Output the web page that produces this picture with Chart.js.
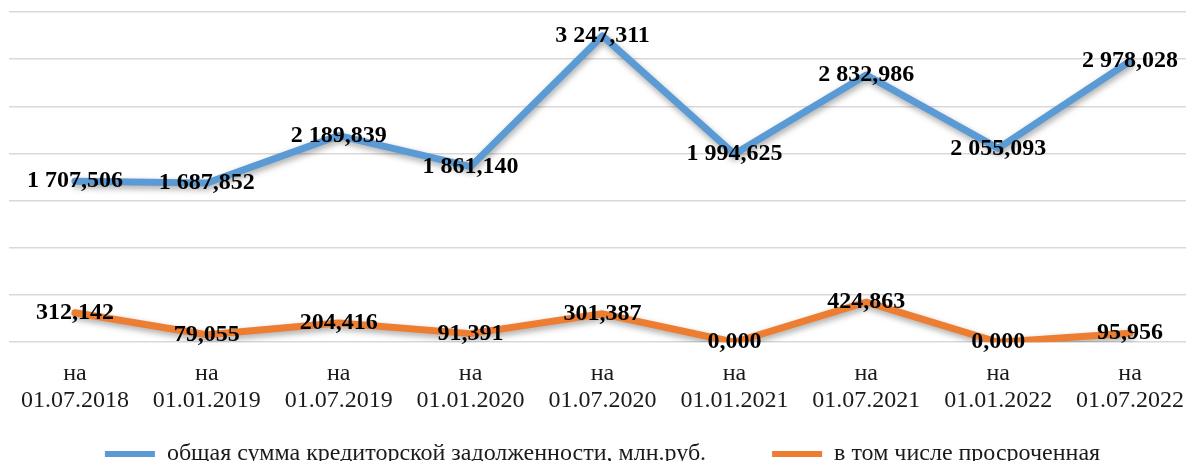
<!DOCTYPE html>
<html lang="ru">
<head>
<meta charset="utf-8">
<title>Кредиторская задолженность</title>
<script src="https://cdn.jsdelivr.net/npm/chart.js@4.4.1/dist/chart.umd.min.js"></script>
<style>
  html, body { margin: 0; padding: 0; background: #fff; overflow: hidden; }
  #wrap { width: 1196px; height: 461px; position: relative; }
</style>
</head>
<body>
<div id="wrap"><canvas id="debtChart"></canvas></div>
<script>
// data
const dates = ["01.07.2018", "01.01.2019", "01.07.2019", "01.01.2020", "01.07.2020", "01.01.2021", "01.07.2021", "01.01.2022", "01.07.2022"];
const totalDebt = [1707.506, 1687.852, 2189.839, 1861.14, 3247.311, 1994.625, 2832.986, 2055.093, 2978.028];
const overdueDebt = [312.142, 79.055, 204.416, 91.391, 301.387, 0, 424.863, 0, 95.956];
const seriesNames = ["общая сумма кредиторской задолженности, млн.руб.", "в том числе просроченная"];
const yMin = 0;
const yMax = 3500;
const yStep = 500;

const serif = "'Liberation Serif', 'Times New Roman', serif";

// 1707.506 -> "1 707,506"
const formatValue = (v) => {
  const [intPart, decPart] = v.toFixed(3).split(".");
  return intPart.replace(/\B(?=(\d{3})+(?!\d))/g, " ") + "," + decPart;
};

// soft drop shadow under the lines
const lineShadow = {
  id: "lineShadow",
  beforeDatasetsDraw(chart) {
    const c = chart.ctx;
    c.save();
    c.shadowColor = "rgba(0, 0, 0, 0.35)";
    c.shadowBlur = 6;
    c.shadowOffsetX = 1;
    c.shadowOffsetY = 3;
  },
  afterDatasetsDraw(chart) {
    chart.ctx.restore();
  },
};

// value labels centred on each point
const valueLabels = {
  id: "valueLabels",
  afterDatasetsDraw(chart) {
    const c = chart.ctx;
    c.save();
    c.font = "bold 24px " + serif;
    c.fillStyle = "#000";
    c.textAlign = "center";
    c.textBaseline = "middle";
    chart.data.datasets.forEach((ds, i) => {
      chart.getDatasetMeta(i).data.forEach((pt, j) => {
        c.fillText(formatValue(ds.data[j]), pt.x, pt.y);
      });
    });
    c.restore();
  },
};

const ctx = document.getElementById("debtChart").getContext("2d");
const debtChart = new Chart(ctx, {
  type: "line",
  data: {
    labels: dates.map((d) => ["на", d]),
    datasets: [
      {
        label: seriesNames[0],
        data: totalDebt,
        borderColor: "#5b9bd5",
        backgroundColor: "#5b9bd5",
        borderWidth: 7,
        borderCapStyle: "round",
        borderJoinStyle: "round",
        pointRadius: 0,
        tension: 0,
      },
      {
        label: seriesNames[1],
        data: overdueDebt,
        borderColor: "#ed7d31",
        backgroundColor: "#ed7d31",
        borderWidth: 7,
        borderCapStyle: "round",
        borderJoinStyle: "round",
        pointRadius: 0,
        tension: 0,
      },
    ],
  },
  plugins: [lineShadow, valueLabels],
  options: {
    responsive: true,
    maintainAspectRatio: false,
    animation: false,
    layout: {
      padding: { left: 9, right: 0, top: 12, bottom: -15 },
    },
    plugins: {
      tooltip: { enabled: false },
      legend: {
        position: "bottom",
        labels: {
          usePointStyle: true,
          pointStyle: "line",
          pointStyleWidth: 50,
          padding: 18,
          color: "#1a1a1a",
          font: { family: serif, size: 24 },
          generateLabels: (chart) =>
            Chart.defaults.plugins.legend.labels.generateLabels(chart).map((item, i) => ({
              ...item,
              lineWidth: 6,
              // extra spaces keep the gap between the two legend entries
              text: i === 0 ? item.text + "\u00a0".repeat(8) : item.text,
            })),
        },
      },
    },
    scales: {
      x: {
        offset: true,
        grid: { display: false },
        border: { display: false },
        ticks: {
          autoSkip: false,
          maxRotation: 0,
          padding: 10,
          color: "#1a1a1a",
          font: { family: serif, size: 24, lineHeight: 1.12 },
        },
      },
      y: {
        min: yMin,
        max: yMax,
        border: { display: false },
        grid: { color: "#d9d9d9", lineWidth: 1.5, drawTicks: false },
        ticks: { display: false, stepSize: yStep },
      },
    },
  },
});
</script>
</body>
</html>
